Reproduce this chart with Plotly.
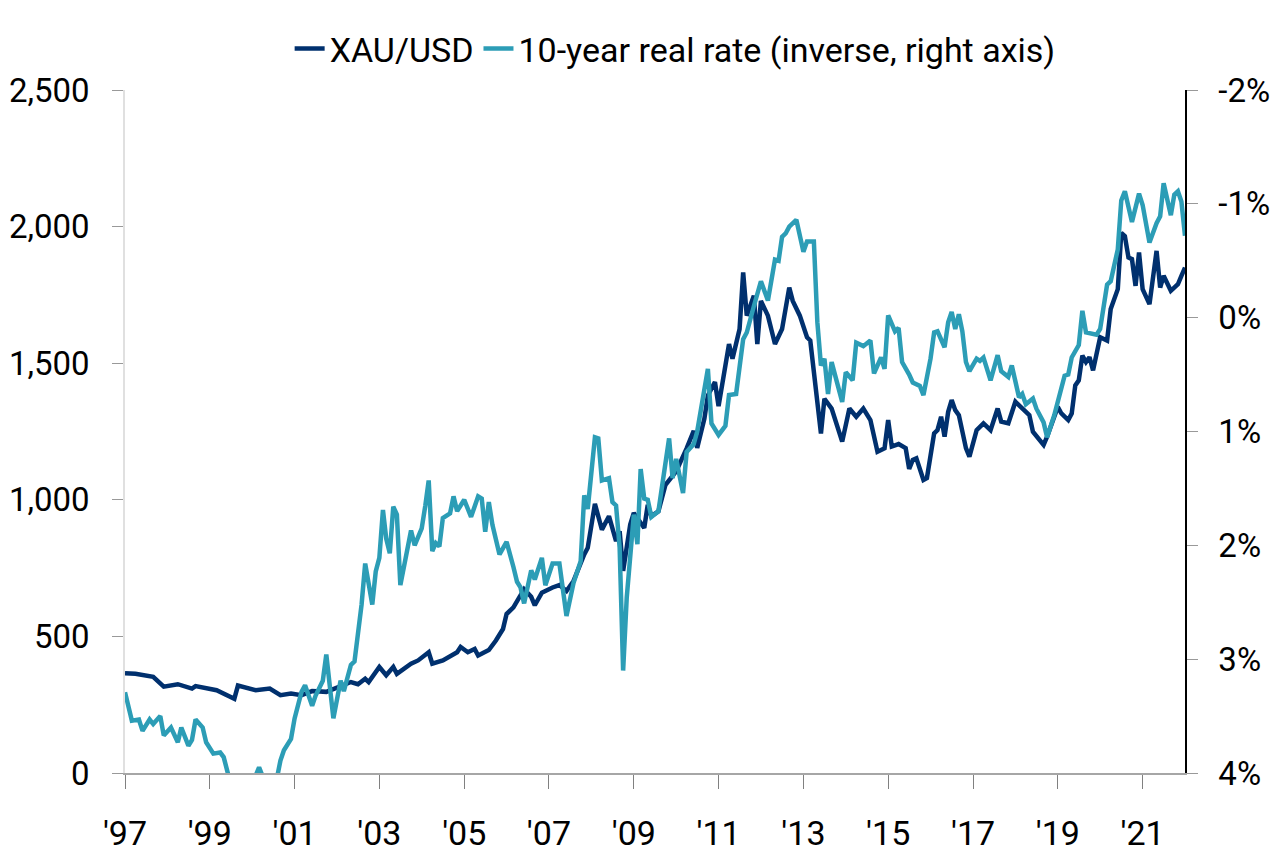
import plotly.graph_objects as go

# gold price, USD/oz
gold_dates = [
    "1997-01", "1997-04", "1997-09", "1997-12", "1998-04", "1998-08", "1998-09",
    "1999-03", "1999-08", "1999-09", "2000-02", "2000-06", "2000-09", "2000-12",
    "2001-03", "2001-06", "2001-10", "2002-05", "2002-07", "2002-09", "2002-10",
    "2003-01", "2003-03", "2003-05", "2003-06", "2003-10", "2003-12", "2004-01",
    "2004-03", "2004-04", "2004-07", "2004-11", "2004-12", "2005-02", "2005-04",
    "2005-05", "2005-08", "2005-10", "2005-12", "2006-01", "2006-03", "2006-06",
    "2006-08", "2006-09", "2006-11", "2007-02", "2007-04", "2007-06", "2007-08",
    "2007-11", "2007-12", "2008-02", "2008-04", "2008-06", "2008-08", "2008-09",
    "2008-10", "2008-12", "2009-01", "2009-04", "2009-05", "2009-06", "2009-08",
    "2009-10", "2010-01", "2010-04", "2010-06", "2010-07", "2010-09", "2010-10",
    "2010-11", "2010-12", "2011-01", "2011-02", "2011-04", "2011-05", "2011-07",
    "2011-08", "2011-09", "2011-11", "2011-12", "2012-01", "2012-03", "2012-05",
    "2012-07", "2012-09", "2012-10", "2012-12", "2013-02", "2013-03", "2013-04",
    "2013-06", "2013-07", "2013-09", "2013-12", "2014-02", "2014-04", "2014-06",
    "2014-08", "2014-10", "2014-12", "2015-01", "2015-02", "2015-04", "2015-06",
    "2015-07", "2015-08", "2015-09", "2015-11", "2015-12", "2016-02", "2016-03",
    "2016-04", "2016-05", "2016-06", "2016-07", "2016-08", "2016-09", "2016-11",
    "2016-12", "2017-02", "2017-04", "2017-06", "2017-08", "2017-09", "2017-11",
    "2018-01", "2018-03", "2018-05", "2018-06", "2018-09", "2018-10", "2019-01",
    "2019-02", "2019-04", "2019-05", "2019-06", "2019-07", "2019-08", "2019-09",
    "2019-10", "2019-11", "2020-01", "2020-03", "2020-04", "2020-06", "2020-07",
    "2020-08", "2020-09", "2020-10", "2020-11", "2020-12", "2021-01", "2021-03",
    "2021-05", "2021-06", "2021-07", "2021-09", "2021-11", "2021-12", "2022-01",
]
gold_values = [
    365, 363, 352, 316, 325, 309, 318,
    303, 272, 320, 303, 309, 285, 291,
    285, 300, 297, 333, 325, 345, 333,
    388, 358, 388, 363, 400, 412, 424,
    442, 400, 412, 442, 461, 442, 454,
    430, 450, 485, 527, 582, 606, 673,
    645, 614, 660, 679, 688, 666, 703,
    800, 824, 985, 891, 940, 849, 885,
    740, 910, 952, 897, 982, 940, 958,
    1055, 1104, 1188, 1252, 1190, 1297, 1382,
    1407, 1431, 1343, 1419, 1570, 1516, 1625,
    1832, 1674, 1747, 1570, 1728, 1674, 1570,
    1625, 1777, 1728, 1674, 1595, 1583, 1479,
    1243, 1370, 1334, 1213, 1334, 1304, 1334,
    1292, 1176, 1189, 1292, 1195, 1204, 1189,
    1113, 1146, 1152, 1073, 1080, 1243, 1255,
    1304, 1231, 1322, 1365, 1328, 1310, 1189,
    1158, 1255, 1280, 1255, 1334, 1286, 1280,
    1359, 1334, 1310, 1249, 1201, 1231, 1340,
    1316, 1292, 1316, 1419, 1437, 1528, 1504,
    1522, 1474, 1595, 1583, 1698, 1771, 1977,
    1965, 1887, 1881, 1783, 1905, 1771, 1716,
    1911, 1777, 1820, 1765, 1789, 1820, 1850,
]

# 10-year real yield, % (plotted on an inverted right axis)
rate_dates = [
    "1997-01", "1997-03", "1997-05", "1997-06", "1997-08", "1997-09", "1997-11",
    "1997-12", "1998-02", "1998-03", "1998-04", "1998-05", "1998-07", "1998-08",
    "1998-09", "1998-11", "1998-12", "1999-02", "1999-04", "1999-05", "1999-06",
    "1999-07", "1999-09", "1999-11", "2000-01", "2000-02", "2000-03", "2000-04",
    "2000-06", "2000-08", "2000-09", "2000-10", "2000-12", "2001-01", "2001-03",
    "2001-04", "2001-06", "2001-07", "2001-09", "2001-10", "2001-12", "2002-02",
    "2002-03", "2002-05", "2002-06", "2002-08", "2002-09", "2002-11", "2002-12",
    "2003-01", "2003-02", "2003-03", "2003-04", "2003-05", "2003-06", "2003-07",
    "2003-09", "2003-10", "2003-11", "2004-01", "2004-02", "2004-03", "2004-04",
    "2004-05", "2004-06", "2004-07", "2004-09", "2004-10", "2004-11", "2005-01",
    "2005-03", "2005-05", "2005-06", "2005-07", "2005-08", "2005-09", "2005-11",
    "2006-01", "2006-03", "2006-04", "2006-05", "2006-06", "2006-08", "2006-09",
    "2006-11", "2006-12", "2007-02", "2007-04", "2007-06", "2007-08", "2007-10",
    "2007-11", "2007-12", "2008-02", "2008-03", "2008-04", "2008-06", "2008-07",
    "2008-08", "2008-09", "2008-10", "2008-11", "2009-01", "2009-02", "2009-03",
    "2009-04", "2009-05", "2009-06", "2009-08", "2009-11", "2009-12", "2010-01",
    "2010-03", "2010-04", "2010-06", "2010-07", "2010-10", "2010-11", "2011-01",
    "2011-03", "2011-04", "2011-06", "2011-08", "2011-09", "2011-11", "2012-01",
    "2012-03", "2012-05", "2012-06", "2012-07", "2012-08", "2012-09", "2012-11",
    "2013-01", "2013-02", "2013-04", "2013-05", "2013-06", "2013-07", "2013-08",
    "2013-09", "2013-12", "2014-01", "2014-03", "2014-04", "2014-06", "2014-08",
    "2014-09", "2014-11", "2014-12", "2015-01", "2015-03", "2015-04", "2015-05",
    "2015-07", "2015-08", "2015-10", "2015-11", "2016-01", "2016-02", "2016-03",
    "2016-05", "2016-06", "2016-07", "2016-08", "2016-09", "2016-10", "2016-11",
    "2016-12", "2017-02", "2017-03", "2017-04", "2017-06", "2017-08", "2017-09",
    "2017-11", "2017-12", "2018-02", "2018-03", "2018-04", "2018-06", "2018-07",
    "2018-09", "2018-10", "2018-12", "2019-01", "2019-03", "2019-04", "2019-05",
    "2019-07", "2019-08", "2019-09", "2019-12", "2020-01", "2020-02", "2020-03",
    "2020-04", "2020-05", "2020-06", "2020-07", "2020-08", "2020-10", "2020-12",
    "2021-01", "2021-03", "2021-05", "2021-06", "2021-07", "2021-09", "2021-10",
    "2021-11", "2021-12", "2022-01",
]
rate_values = [
    3.29, 3.54, 3.53, 3.63, 3.53, 3.57, 3.50,
    3.67, 3.60, 3.66, 3.73, 3.60, 3.76, 3.71,
    3.53, 3.60, 3.73, 3.83, 3.82, 3.86, 3.99,
    4.10, 4.15, 4.25, 4.10, 4.02, 3.95, 4.03,
    4.15, 4.05, 3.89, 3.80, 3.70, 3.52, 3.29,
    3.23, 3.41, 3.32, 3.19, 2.96, 3.52, 3.19,
    3.28, 3.05, 3.02, 2.52, 2.16, 2.52, 2.23,
    2.11, 1.69, 1.94, 2.07, 1.66, 1.73, 2.35,
    2.03, 1.87, 2.00, 1.85, 1.65, 1.43, 2.05,
    1.98, 2.01, 1.76, 1.72, 1.57, 1.70, 1.60,
    1.75, 1.57, 1.59, 1.88, 1.62, 1.82, 2.08,
    1.97, 2.19, 2.32, 2.37, 2.51, 2.22, 2.30,
    2.11, 2.35, 2.16, 2.16, 2.62, 2.33, 2.14,
    1.56, 1.68, 1.05, 1.06, 1.43, 1.41, 1.62,
    1.65, 2.02, 3.10, 2.46, 1.73, 1.99, 1.33,
    1.59, 1.60, 1.75, 1.70, 1.06, 1.41, 1.24,
    1.54, 1.18, 1.11, 1.00, 0.45, 0.93, 1.03,
    0.95, 0.68, 0.67, 0.19, 0.13, -0.10, -0.32,
    -0.15, -0.51, -0.50, -0.71, -0.74, -0.80, -0.86,
    -0.58, -0.67, -0.67, 0.04, 0.42, 0.36, 0.67,
    0.39, 0.74, 0.48, 0.55, 0.22, 0.25, 0.20,
    0.49, 0.35, 0.45, -0.02, 0.12, 0.09, 0.39,
    0.50, 0.57, 0.60, 0.68, 0.36, 0.13, 0.12,
    0.26, 0.04, -0.05, 0.10, -0.03, 0.12, 0.39,
    0.47, 0.36, 0.38, 0.35, 0.55, 0.33, 0.47,
    0.52, 0.42, 0.70, 0.67, 0.76, 0.71, 0.80,
    0.92, 1.05, 0.86, 0.75, 0.51, 0.50, 0.35,
    0.24, -0.06, 0.13, 0.15, 0.10, -0.13, -0.29,
    -0.32, -0.48, -0.60, -1.03, -1.11, -0.84, -1.09,
    -0.99, -0.66, -0.83, -0.89, -1.18, -0.90, -1.08,
    -1.11, -1.02, -0.72,
]

year_ticks = ["1997-01-01", "1999-01-01", "2001-01-01", "2003-01-01", "2005-01-01",
              "2007-01-01", "2009-01-01", "2011-01-01", "2013-01-01", "2015-01-01",
              "2017-01-01", "2019-01-01", "2021-01-01"]
year_labels = ["'97", "'99", "'01", "'03", "'05", "'07", "'09", "'11", "'13", "'15",
               "'17", "'19", "'21"]
rate_ticks = [-2, -1, 0, 1, 2, 3, 4]
rate_labels = ["-2%", "-1%", "0%", "1%", "2%", "3%", "4%"]

NAVY = "#00306e"
TEAL = "#2c9db6"
FONT = "Roboto, Liberation Sans, sans-serif"

fig = go.Figure()
fig.add_trace(go.Scatter(x=gold_dates, y=gold_values, name="XAU/USD",
                         mode="lines", line=dict(color=NAVY, width=4.5)))
fig.add_trace(go.Scatter(x=rate_dates, y=rate_values, name="10-year real rate (inverse, right axis)",
                         mode="lines", line=dict(color=TEAL, width=4.5), yaxis="y2"))

# page body has an 8px margin, so the figure is a bit smaller than the window
fig.update_layout(
    width=1264, height=850,
    margin=dict(l=117, r=87, t=78, b=85),
    paper_bgcolor="white", plot_bgcolor="white",
    font=dict(family=FONT, size=33, color="black"),
    showlegend=True,
    legend=dict(orientation="h", x=0.519, xanchor="center", y=1.06, yanchor="middle",
                font=dict(size=34), itemwidth=30, traceorder="normal"),
    xaxis=dict(type="date", range=["1997-01-01", "2022-01-01"],
               tickvals=year_ticks, ticktext=year_labels, automargin=False,
               showgrid=False, zeroline=False,
               showline=True, linecolor="#a6a6a6", linewidth=1.5,
               ticks="outside", ticklen=14, tickcolor="#808080", tickwidth=1,
               ticklabelstandoff=15, tickfont=dict(size=34)),
    yaxis=dict(range=[0, 2500], dtick=500, tickformat=",", automargin=False,
               showgrid=False, zeroline=False,
               showline=True, linecolor="#e0e0e0", linewidth=1.5,
               ticks="outside", ticklen=11, tickcolor="#999999",
               ticklabelstandoff=16, tickfont=dict(size=33)),
    yaxis2=dict(overlaying="y", side="right", range=[4, -2],
                tickvals=rate_ticks, ticktext=rate_labels, automargin=False,
                showgrid=False, zeroline=False,
                showline=True, linecolor="black", linewidth=1.5,
                ticks="outside", ticklen=11, tickcolor="#999999",
                ticklabelstandoff=14, tickfont=dict(size=33)),
)

fig.write_html("out.html")
